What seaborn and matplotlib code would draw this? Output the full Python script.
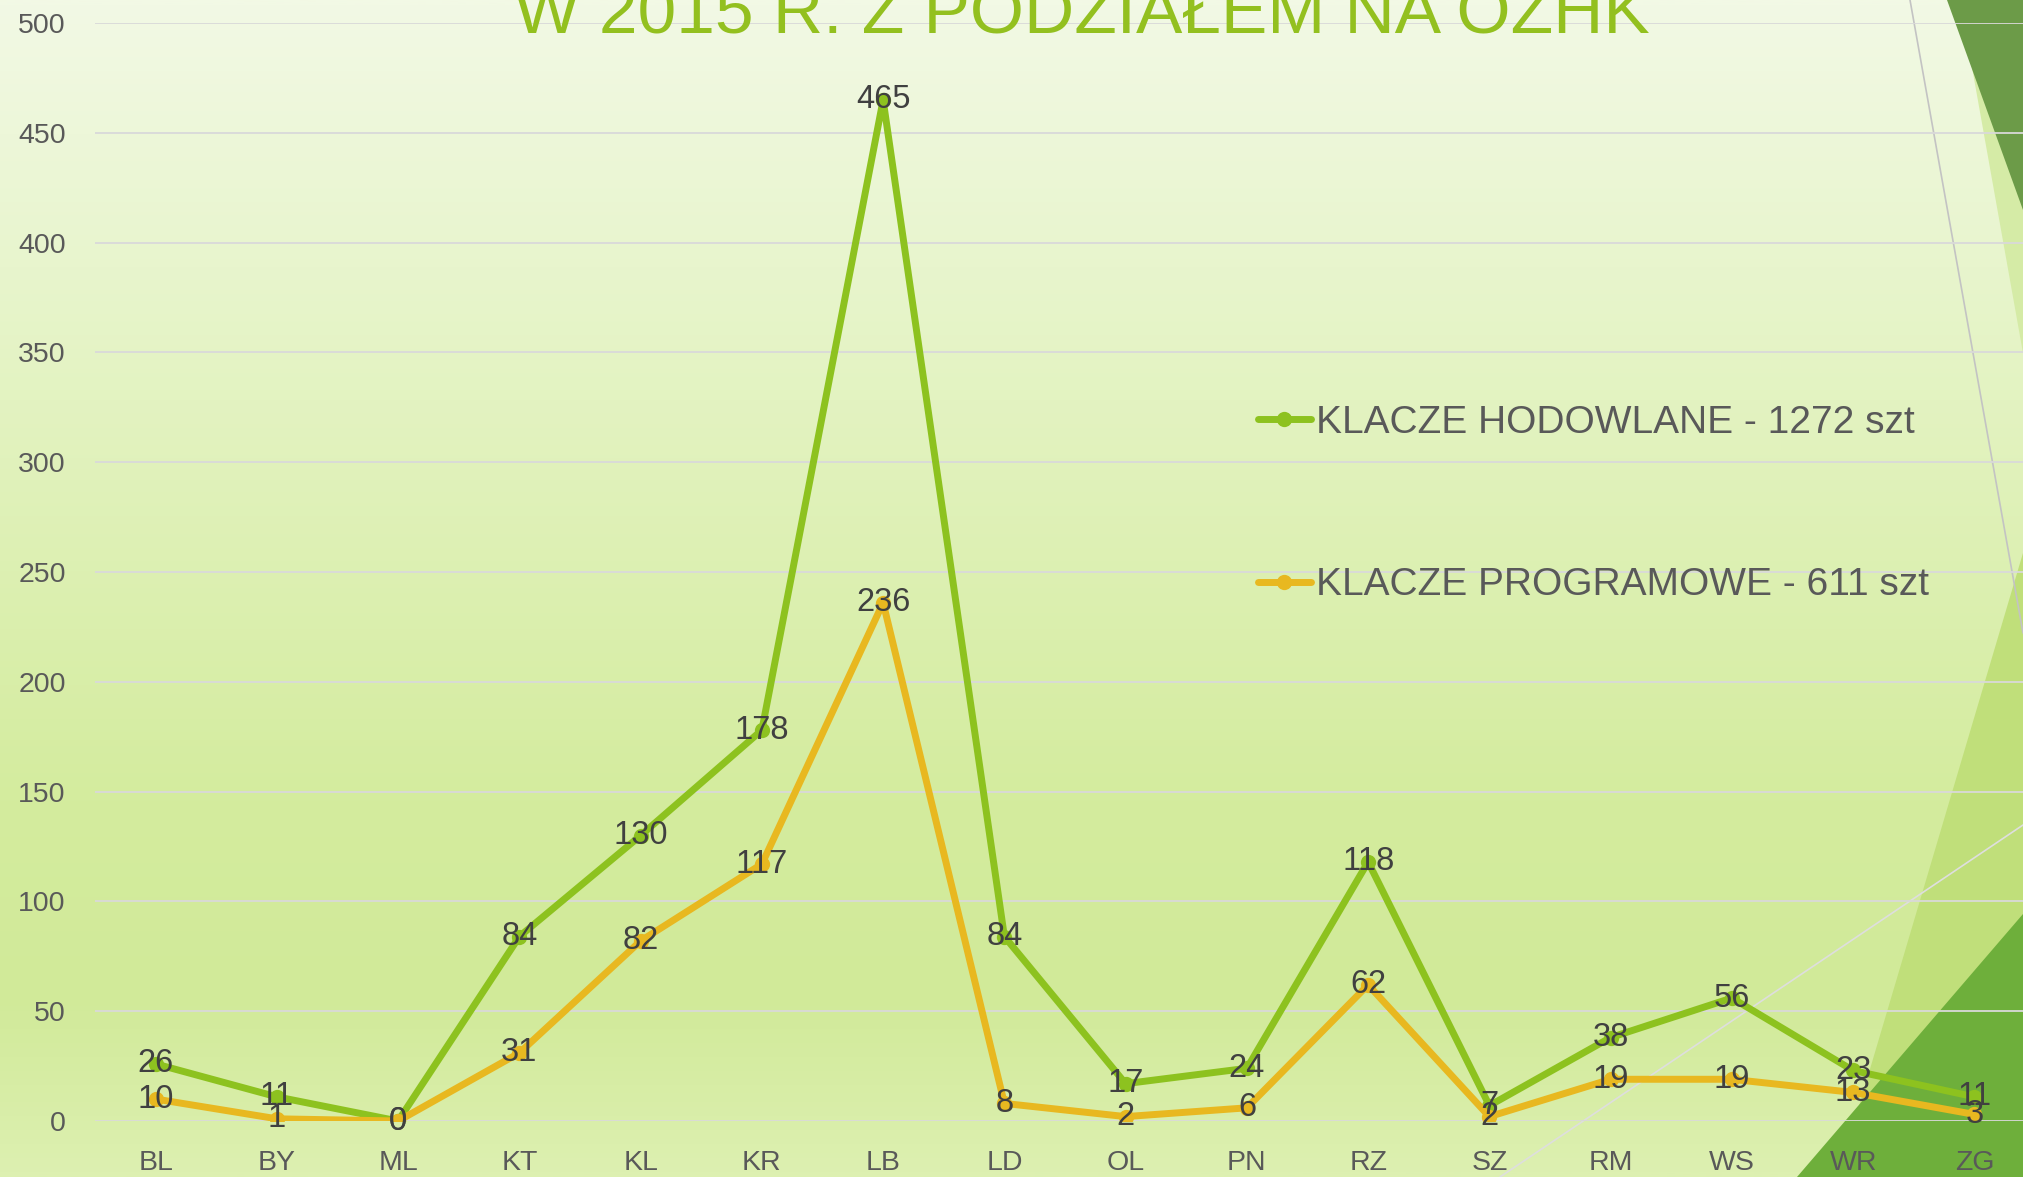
import numpy as np
import pandas as pd
import seaborn as sns
import matplotlib.pyplot as plt
from matplotlib.colors import LinearSegmentedColormap
from matplotlib.patches import Polygon

# dane z wykresu
okregi = ['BL', 'BY', 'ML', 'KT', 'KL', 'KR', 'LB', 'LD', 'OL', 'PN', 'RZ', 'SZ', 'RM', 'WS', 'WR', 'ZG']
hodowlane = [26, 11, 0, 84, 130, 178, 465, 84, 17, 24, 118, 7, 38, 56, 23, 11]
programowe = [10, 1, 0, 31, 82, 117, 236, 8, 2, 6, 62, 2, 19, 19, 13, 3]
seria_h = 'KLACZE HODOWLANE - 1272 szt'
seria_p = 'KLACZE PROGRAMOWE - 611 szt'
tytul = 'W 2015 R. Z PODZIAŁEM NA OZHK'
y_ticks = [0, 50, 100, 150, 200, 250, 300, 350, 400, 450, 500]

df = pd.concat([
    pd.DataFrame({'okreg': okregi, 'liczba': hodowlane, 'seria': seria_h}),
    pd.DataFrame({'okreg': okregi, 'liczba': programowe, 'seria': seria_p}),
], ignore_index=True)

sns.set_style('white')
plt.rcParams['font.family'] = ['Liberation Sans', 'DejaVu Sans']

W, H = 2023, 1177
fig = plt.figure(figsize=(W / 100, H / 100), dpi=100)

# tlo slajdu - gradient i dekoracyjne trojkaty
bg = fig.add_axes([0, 0, 1, 1], zorder=0)
bg.set_xlim(0, W)
bg.set_ylim(H, 0)
bg.axis('off')
stops = [(0, '#f2f9e5'), (400 / H, '#e3f3c1'), (800 / H, '#d4ec9e'), (1000 / H, '#d1ea99'), (1, '#ddf0b1')]
cmap = LinearSegmentedColormap.from_list('tlo', stops)
grad = np.linspace(0, 1, 600).reshape(-1, 1)
bg.imshow(grad, cmap=cmap, aspect='auto', extent=(0, W, H, 0))
bg.add_patch(Polygon([(1960, 0), (2023, 0), (2023, 353)], closed=True, color='#d5eba6', lw=0))
bg.add_patch(Polygon([(1947, 0), (2023, 0), (2023, 210)], closed=True, color='#6c9b48', lw=0))
bg.add_patch(Polygon([(2023, 553), (1838, 1177), (2023, 1177)], closed=True, color='#c0df7a', lw=0))
bg.add_patch(Polygon([(1797, 1177), (2023, 914), (2023, 1177)], closed=True, color='#6eaf3b', lw=0))
bg.plot([1910, 2023], [0, 633], color='#c3c3c3', lw=1.2)
bg.plot([1500, 2023], [1177, 825], color='#dedede', lw=1.2)

# wykres
ax = fig.add_axes([95 / W, 56 / H, 1940 / W, 1098 / H], zorder=1)
ax.patch.set_alpha(0)
sns.lineplot(data=df, x='okreg', y='liczba', hue='seria', sort=False,
             palette={seria_h: '#8dc21f', seria_p: '#e8b820'},
             marker='o', markersize=11, markeredgewidth=0, linewidth=5, ax=ax)

for vals in [hodowlane, programowe]:
    for i, v in enumerate(vals):
        ax.text(i, v, str(v), ha='center', va='center', fontsize=23.5, color='#404040', zorder=5)

ax.set_xlim(-0.5, 15.5)
ax.set_ylim(0, 500)
ax.set_yticks(y_ticks)
ax.yaxis.grid(True, color='#d9d9d9', lw=1.3)
ax.xaxis.grid(False)
ax.set_axisbelow(True)
for s in ax.spines.values():
    s.set_visible(False)
ax.tick_params(axis='both', length=0, labelsize=20.5, labelcolor='#595959')
ax.tick_params(axis='y', pad=21)
ax.tick_params(axis='x', pad=21)
ax.set_xlabel('')
ax.set_ylabel('')

leg = ax.legend(loc='upper left', bbox_to_anchor=(1258 / W, (1177 - 405) / H),
                bbox_transform=fig.transFigure, frameon=False, fontsize=28,
                handlelength=1.35, handletextpad=0.15, labelspacing=3.25,
                borderpad=0, borderaxespad=0)
for t in leg.get_texts():
    t.set_color('#595959')

fig.text(1082 / W, (1177 - 33) / H, tytul, ha='center', va='baseline', fontsize=50, color='#93c01f')

fig.savefig('out.png', dpi=100)
